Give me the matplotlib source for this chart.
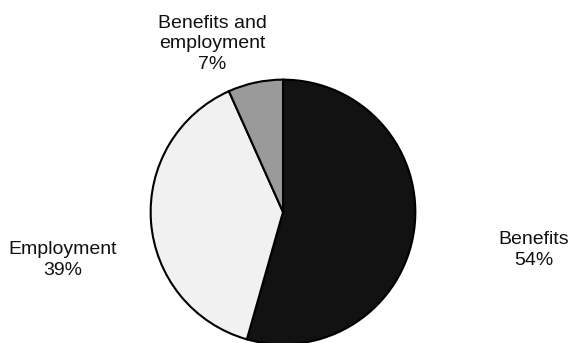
import matplotlib.pyplot as plt

# Share of respondents by type of support
labels = ['Benefits', 'Employment', 'Benefits and\nemployment']
values = [54.4, 38.9, 6.7]
colors = ['#121212', '#f1f1f1', '#9a9a9a']

# label anchor points in pixels (x from left, y from top)
label_pos = [(534, 250), (63, 260), (212, 44)]

W, H = 573, 343
fig = plt.figure(figsize=(W / 100, H / 100), dpi=100)
plt.rcParams['font.family'] = ['Liberation Sans', 'DejaVu Sans']

# pie centre ~ (283, 212) px, radius ~ 135 px
cx, cy, r = 283, 212, 135
ax = fig.add_axes([(cx - r) / W, (H - cy - r) / H, 2 * r / W, 2 * r / H])
ax.pie(values, colors=colors, startangle=90, counterclock=False,
       wedgeprops={'edgecolor': 'black', 'linewidth': 1.5})
ax.set_xlim(-1.02, 1.02)
ax.set_ylim(-1.02, 1.02)
ax.set_aspect('equal')
ax.axis('off')

for lab, val, (px, py) in zip(labels, values, label_pos):
    fig.text(px / W, 1 - py / H, f'{lab}\n{round(val)}%', ha='center', va='center',
             fontsize=14, linespacing=1.28, color='#111111')

plt.savefig('out.png', dpi=100)
